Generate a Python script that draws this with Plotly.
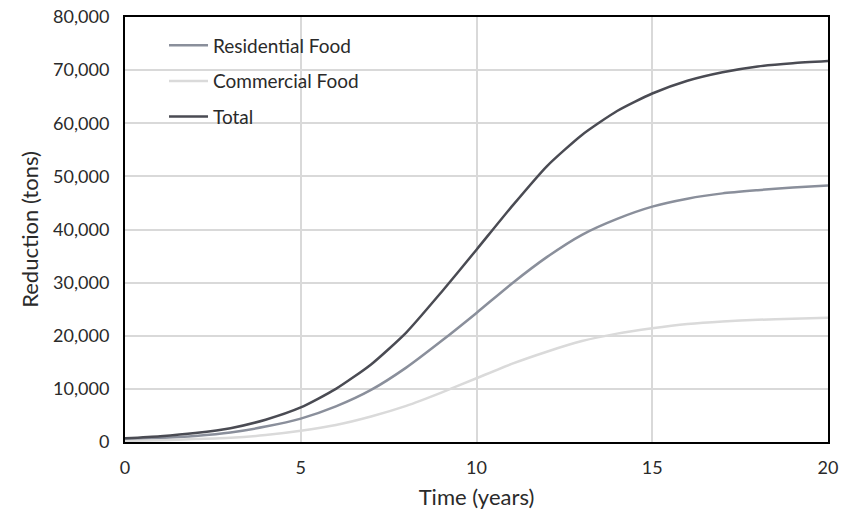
import plotly.graph_objects as go

years = list(range(0, 21))
residential = [500, 750, 1150, 1800, 2900, 4400, 6700, 9800, 14000, 19000, 24300,
               29800, 34800, 39000, 42000, 44300, 45800, 46800, 47400, 47900, 48300]
commercial = [200, 350, 550, 800, 1300, 2100, 3200, 4800, 6800, 9300, 12000,
              14700, 17000, 19000, 20400, 21400, 22200, 22700, 23000, 23200, 23400]
total = [700, 1100, 1700, 2600, 4200, 6500, 10000, 14600, 20600, 28200, 36200,
         44300, 51900, 57800, 62300, 65600, 68000, 69600, 70700, 71300, 71700]

series = [
    ("Residential Food", residential, "#8a8f9b"),
    ("Commercial Food", commercial, "#dadada"),
    ("Total", total, "#4a4b53"),
]

font = "Lato, 'Open Sans', sans-serif"
text_color = "#2a2a2a"
fig = go.Figure()
for i, (name, vals, color) in enumerate(series):
    fig.add_trace(go.Scatter(
        x=years, y=vals, name=name, mode="lines",
        line=dict(color=color, width=2.5, shape="spline", smoothing=0.6),
        legendgroup=f"g{i}",
    ))

fig.update_layout(
    width=856, height=515,
    margin=dict(l=125, r=28, t=17, b=73),
    paper_bgcolor="white", plot_bgcolor="white",
    font=dict(family=font, size=18, color=text_color),
    showlegend=True,
    legend=dict(x=0.0555, y=0.978, xanchor="left", yanchor="top",
                bgcolor="rgba(0,0,0,0)", tracegroupgap=8, itemwidth=39,
                font=dict(size=19, color=text_color)),
    xaxis=dict(range=[0, 20], dtick=5, tick0=0, showgrid=True,
               gridcolor="#d9d9d9", gridwidth=1.5, zeroline=False,
               showline=True, linecolor="black", linewidth=2, mirror=True,
               ticks="", ticklabelstandoff=8, automargin=False,
               ticklabeloverflow="allow",
               title=dict(text="Time (years)", standoff=13),
               tickfont=dict(size=18)),
    yaxis=dict(range=[0, 80000], dtick=10000, tickformat=",", showgrid=True,
               gridcolor="#d9d9d9", gridwidth=1.5, zeroline=False,
               showline=True, linecolor="black", linewidth=2, mirror=True,
               ticks="", ticklabelstandoff=10, automargin=False,
               ticklabeloverflow="allow",
               title=dict(text="Reduction (tons)", standoff=8),
               tickfont=dict(size=18)),
)

fig.write_html(
    "out.html",
    config={"displayModeBar": False},
    post_script="document.body.style.margin='0';document.body.style.overflow='hidden';",
)
